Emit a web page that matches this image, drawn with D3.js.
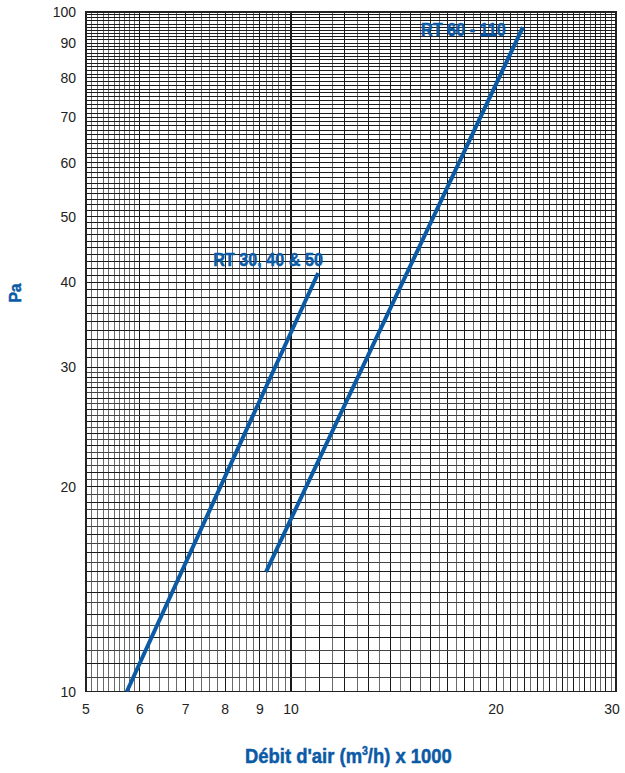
<!DOCTYPE html>
<html>
    <head>
        <meta charset="utf-8">
        <script src="https://d3js.org/d3.v7.min.js"></script>
        <style>
            body { margin: 0; background: #fff; }
            .tick-label { font-family: "Liberation Sans", Arial, sans-serif; font-size: 14px; fill: #222; }
            .blue-text { font-family: "Liberation Sans", Arial, sans-serif; font-weight: bold; fill: #0b5aa6; stroke: #0b5aa6; stroke-width: 0.5px; }
        </style>
    </head>
    <body>
        <svg id="chart" width="625" height="773"></svg>
        <script>
            // axis ticks
            const xTicks = [5, 6, 7, 8, 9, 10, 20, 30];
            const yTicks = [10, 20, 30, 40, 50, 60, 70, 80, 90, 100];

            // curves: start and end points (flow x1000 m3/h, pressure Pa)
            const seriesNames = ["RT 30, 40 & 50", "RT 60 - 110"];
            const rt3050Flow = [5.74, 10.96];
            const rt3050Pa = [10, 41.3];
            const rt60110Flow = [9.19, 21.9];
            const rt60110Pa = [15, 95];

            const svg = d3.select("#chart");
            const plotLeft = 86, plotRight = 616, plotTop = 12, plotBottom = 691.5;
            const blue = "#0b5aa6";

            const x = d3.scaleLog().domain([5, 30]).range([plotLeft, plotRight]);
            const y = d3.scaleLog().domain([10, 100]).range([plotBottom, plotTop]);

            /* grid values: fine steps on the paper */
            function gridValues(ranges) {
                let vals = [];
                for (let [a, b, step] of ranges) {
                    let n = Math.round((b - a) / step);
                    for (let i = 0; i <= n; i++) vals.push(+(a + i * step).toFixed(2));
                }
                return Array.from(new Set(vals));
            }
            const xGrid = gridValues([[5, 6, 0.1], [6, 10, 0.2], [10, 30, 0.5]]);
            const yGrid = gridValues([[10, 30, 0.5], [30, 100, 1]]);

            function isMajor(v) { return Math.abs(v - Math.round(v)) < 1e-6; }

            const grid = svg.append("g").attr("shape-rendering", "crispEdges");
            grid.selectAll("line.vx")
                .data(xGrid)
                .enter().append("line")
                .attr("x1", d => x(d)).attr("x2", d => x(d))
                .attr("y1", plotTop).attr("y2", plotBottom)
                .attr("stroke", d => isMajor(d) ? "#1a1a1a" : "#6a6a6a")
                .attr("stroke-width", d => d === 10 ? 2 : 1);
            grid.selectAll("line.hy")
                .data(yGrid)
                .enter().append("line")
                .attr("y1", d => y(d)).attr("y2", d => y(d))
                .attr("x1", plotLeft).attr("x2", plotRight)
                .attr("stroke", d => isMajor(d) ? "#1a1a1a" : "#444")
                .attr("stroke-width", 1);

            // frame
            grid.append("rect")
                .attr("x", plotLeft).attr("y", plotTop)
                .attr("width", plotRight - plotLeft).attr("height", plotBottom - plotTop)
                .attr("fill", "none").attr("stroke", "#222").attr("stroke-width", 1.5);

            // tick labels
            svg.selectAll("text.ylab")
                .data(yTicks)
                .enter().append("text")
                .attr("class", "tick-label")
                .attr("x", plotLeft - 10)
                .attr("y", d => y(d) + 5)
                .attr("text-anchor", "end")
                .text(d => d);
            svg.selectAll("text.xlab")
                .data(xTicks)
                .enter().append("text")
                .attr("class", "tick-label")
                .attr("x", d => x(d) - (d === 30 ? 4 : 0))
                .attr("y", plotBottom + 22)
                .attr("text-anchor", "middle")
                .text(d => d);

            // curves
            const line = d3.line().x(d => x(d[0])).y(d => y(d[1]));
            const series = [
                d3.zip(rt3050Flow, rt3050Pa),
                d3.zip(rt60110Flow, rt60110Pa)
            ];
            svg.selectAll("path.curve")
                .data(series)
                .enter().append("path")
                .attr("d", line)
                .attr("fill", "none")
                .attr("stroke", blue)
                .attr("stroke-width", 4);

            /* no condensed font here, so squeeze the text to the width it has
               in the picture. (x0, y0) is the left end of the baseline */
            function condensed(sel, x0, y0, width) {
                sel.attr("x", 0).attr("y", 0).attr("text-anchor", "start");
                let w = sel.node().getBBox().width;
                sel.attr("transform", "translate(" + x0 + "," + y0 + ") scale(" + (width / w) + ",1)");
                return sel;
            }

            // curve labels, right end tied to each curve's end
            const labelOffsets = [[5, -7], [-17, 9]];
            const labelWidths = [110, 85];
            series.forEach((s, i) => {
                let end = s[s.length - 1];
                let t = svg.append("text")
                    .attr("class", "blue-text")
                    .attr("font-size", 18.5)
                    .text(seriesNames[i]);
                condensed(t, x(end[0]) + labelOffsets[i][0] - labelWidths[i],
                    y(end[1]) + labelOffsets[i][1], labelWidths[i]);
            });

            // axis titles
            let pa = svg.append("text")
                .attr("class", "blue-text")
                .attr("font-size", 16.5)
                .text("Pa");
            let paW = pa.node().getBBox().width;
            pa.attr("text-anchor", "middle")
                .attr("transform", "translate(21,293) rotate(-90) scale(" + (20 / paW) + ",1)");

            let xt = svg.append("text")
                .attr("class", "blue-text")
                .attr("font-size", 21);
            xt.append("tspan").text("Débit d'air (m");
            xt.append("tspan").attr("font-size", 12).attr("dy", -8).text("3");
            xt.append("tspan").attr("dy", 8).text("/h) x 1000");
            condensed(xt, 245, 763, 207);
        </script>
    </body>
</html>
